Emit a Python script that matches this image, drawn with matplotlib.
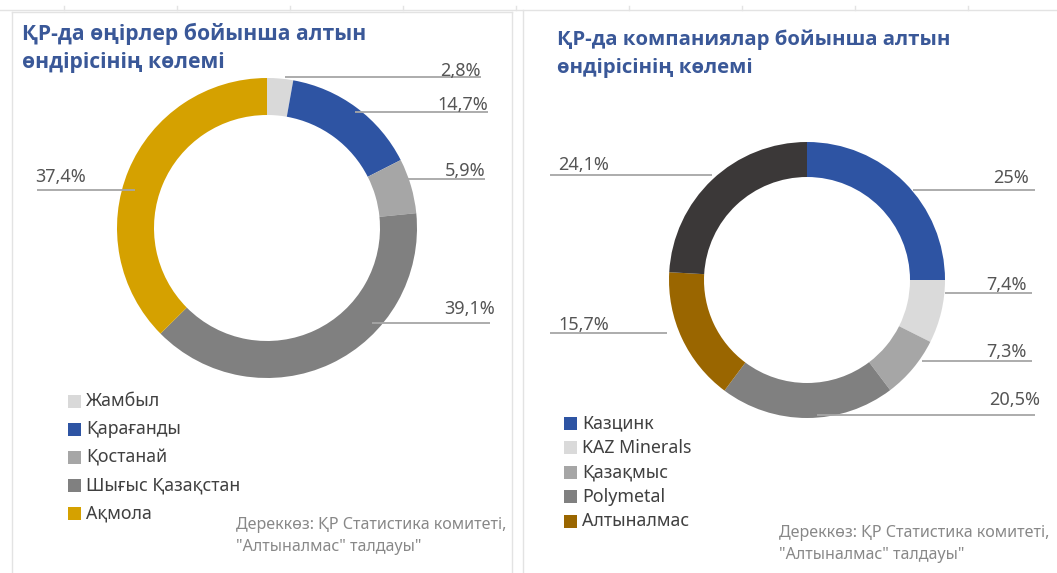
import matplotlib
matplotlib.use("Agg")
import matplotlib.pyplot as plt
from matplotlib.patches import Rectangle

plt.rcParams['font.family'] = ['Noto Sans', 'DejaVu Sans']

W, H = 1057, 573

# ---------------- data ----------------
left_title = "ҚР-да өңірлер бойынша алтын\nөндірісінің көлемі"
left_labels = ["Жамбыл", "Қарағанды", "Қостанай", "Шығыс Қазақстан", "Ақмола"]
left_values = [2.8, 14.7, 5.9, 39.1, 37.4]
left_colors = ["#D9D9D9", "#2E54A3", "#A6A6A6", "#808080", "#D5A100"]

right_title = "ҚР-да компаниялар бойынша алтын\nөндірісінің көлемі"
right_labels = ["Казцинк", "KAZ Minerals", "Қазақмыс", "Polymetal", "Алтыналмас", ""]
right_values = [25.0, 7.4, 7.3, 20.5, 15.7, 24.1]
right_colors = ["#2E54A3", "#DADADA", "#A6A6A6", "#808080", "#9A6600", "#3B3838"]

source_text = "Дереккөз: ҚР Статистика комитеті,\n\"Алтыналмас\" талдауы\""

# ---------------- layout ----------------
fig = plt.figure(figsize=(W / 100, H / 100), dpi=100)
ax = fig.add_axes([0, 0, 1, 1])

def Y(y):
    return H - y

def fmt(v):
    s = ("%.1f" % v).rstrip("0").rstrip(".")
    return s.replace(".", ",") + "%"

def donut(values, colors, cx, cy, r, width):
    wedges, _ = ax.pie(values, colors=colors, startangle=90, counterclock=False,
                       center=(cx, Y(cy)), radius=r,
                       wedgeprops=dict(width=width, edgecolor="none"))
    return wedges

donut(left_values, left_colors, 267, 228, 150, 37)
donut(right_values, right_colors, 807, 280, 138, 35)

# label layout: (text_x, text_y, ha, line_x0, line_x1, line_y)
left_lab_pos = [
    (481, 71, "right", 285, 481, 77),
    (488, 105, "right", 355, 488, 112),
    (485, 171, "right", 402, 485, 179),
    (495, 309, "right", 372, 490, 323),
    (35, 177, "left", 37, 135, 190),
]
right_lab_pos = [
    (1029, 178, "right", 913, 1035, 190),
    (1027, 285, "right", 945, 1032, 293),
    (1027, 352, "right", 922, 1032, 361),
    (1040, 400, "right", 817, 1035, 415),
    (558, 325, "left", 550, 667, 333),
    (558, 165, "left", 550, 712, 175),
]

LBL_COLOR = "#555555"
LINE_COLOR = "#A6A6A6"

for vals, pos in ((left_values, left_lab_pos), (right_values, right_lab_pos)):
    for v, (tx, ty, ha, x0, x1, ly) in zip(vals, pos):
        ax.plot([x0, x1], [Y(ly), Y(ly)], color=LINE_COLOR, lw=1.3,
                solid_capstyle="butt", zorder=1)
        ax.text(tx, Y(ty), fmt(v), ha=ha, va="center", fontsize=13,
                color=LBL_COLOR, zorder=3)

# titles
TITLE_COLOR = "#3A5898"
TITLE_FONT = ['Open Sans', 'DejaVu Sans']
ax.text(22, Y(23), left_title, ha="left", va="top", fontsize=15.2,
        fontweight="bold", family=TITLE_FONT, color=TITLE_COLOR, linespacing=1.4)
ax.text(557, Y(29), right_title, ha="left", va="top", fontsize=14.7,
        fontweight="bold", family=TITLE_FONT, color=TITLE_COLOR, linespacing=1.6)

# legends
def legend(labels, colors, x, y0, dy, fs):
    k = 0
    for lab, col in zip(labels, colors):
        if not lab:
            continue
        y = y0 + k * dy
        ax.add_patch(Rectangle((x, Y(y) - 6.5), 13, 13, facecolor=col,
                               edgecolor="none"))
        ax.text(x + 18, Y(y), lab, ha="left", va="center", fontsize=fs,
                color="#404040")
        k += 1

legend(left_labels, left_colors, 68, 401, 28, 12.8)
legend(right_labels, right_colors, 564, 423, 24.6, 12.8)

# source notes
ax.text(236, Y(536), source_text, ha="left", va="center", fontsize=11.6,
        color="#888888", linespacing=1.45)
ax.text(779, Y(544), source_text, ha="left", va="center", fontsize=11.6,
        color="#888888", linespacing=1.45)

# faint panel frames
FR = "#E3E3E3"
ax.plot([0, W], [Y(10), Y(10)], color=FR, lw=1)
for tx in range(64, W, 113):
    ax.plot([tx, tx], [Y(6), Y(10)], color=FR, lw=1)
ax.plot([12, 512], [Y(12), Y(12)], color=FR, lw=1)
ax.plot([12, 12], [Y(12), Y(573)], color=FR, lw=1)
ax.plot([512, 512], [Y(12), Y(573)], color=FR, lw=1)
ax.plot([523, 523], [Y(10), Y(573)], color=FR, lw=1)

ax.set_xlim(0, W)
ax.set_ylim(0, H)
ax.set_aspect("auto")
ax.axis("off")

fig.savefig("out.png", dpi=100)
